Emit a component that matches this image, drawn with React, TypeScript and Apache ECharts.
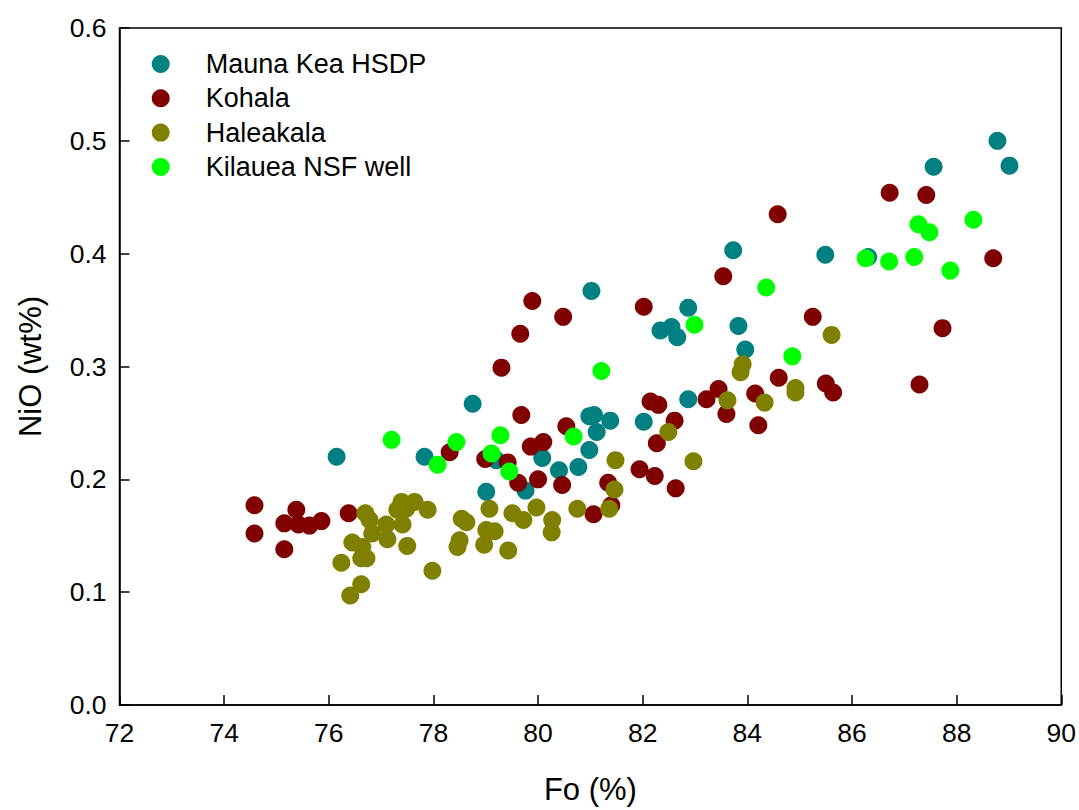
import React, { useEffect, useRef } from "react";
import * as echarts from "echarts";

const seriesNames = ["Mauna Kea HSDP", "Kohala", "Haleakala", "Kilauea NSF well"];
const seriesColors = ["#008080", "#800000", "#808000", "#00ff00"];

const maunaKea: [number, number][] = [
  [76.15, 0.22], [77.83, 0.22], [78.75, 0.267], [79.01, 0.189], [79.2, 0.217],
  [79.76, 0.19], [80.08, 0.219], [80.4, 0.208], [80.77, 0.211], [80.98, 0.226],
  [80.98, 0.256], [81.07, 0.257], [81.12, 0.242], [81.38, 0.252], [81.02, 0.367],
  [82.02, 0.251], [82.34, 0.332], [82.55, 0.335], [82.66, 0.326], [82.87, 0.352],
  [82.87, 0.271], [83.73, 0.403], [83.83, 0.336], [83.96, 0.315], [85.49, 0.399],
  [86.31, 0.397], [87.56, 0.477], [88.78, 0.5], [89.01, 0.478],
];

const kohala: [number, number][] = [
  [74.58, 0.177], [74.58, 0.152], [75.15, 0.161], [75.15, 0.138], [75.38, 0.173],
  [75.42, 0.16], [75.63, 0.159], [75.86, 0.163], [76.38, 0.17], [78.31, 0.224],
  [78.99, 0.218], [79.3, 0.299], [79.42, 0.215], [79.62, 0.197], [79.66, 0.329],
  [79.68, 0.257], [79.86, 0.229], [79.89, 0.358], [80.0, 0.2], [80.1, 0.233],
  [80.46, 0.195], [80.48, 0.344], [80.54, 0.247], [81.06, 0.169], [81.34, 0.197],
  [81.4, 0.177], [81.94, 0.209], [82.02, 0.353], [82.15, 0.269], [82.23, 0.203],
  [82.27, 0.232], [82.3, 0.266], [82.61, 0.252], [82.63, 0.192], [83.22, 0.271],
  [83.45, 0.28], [83.54, 0.38], [83.6, 0.258], [84.15, 0.276], [84.21, 0.248],
  [84.58, 0.435], [84.6, 0.29], [85.25, 0.344], [85.5, 0.285], [85.64, 0.277],
  [86.72, 0.454], [87.29, 0.284], [87.42, 0.452], [87.73, 0.334], [88.7, 0.396],
];

const haleakala: [number, number][] = [
  [76.7, 0.17], [76.78, 0.164], [76.83, 0.152], [76.64, 0.14], [76.45, 0.144],
  [76.24, 0.126], [76.62, 0.13], [76.72, 0.13], [76.62, 0.107], [76.41, 0.097],
  [77.1, 0.16], [77.12, 0.147], [77.39, 0.18], [77.48, 0.174], [77.64, 0.18],
  [77.31, 0.173], [77.41, 0.16], [77.89, 0.173], [77.5, 0.141], [77.98, 0.119],
  [78.54, 0.165], [78.63, 0.162], [78.5, 0.146], [78.46, 0.14], [79.07, 0.174],
  [79.01, 0.155], [79.17, 0.154], [78.97, 0.142], [79.43, 0.137], [79.51, 0.17],
  [79.72, 0.164], [79.97, 0.175], [80.27, 0.164], [80.26, 0.153], [80.75, 0.174],
  [81.36, 0.174], [81.46, 0.191], [81.48, 0.217], [82.49, 0.242], [82.97, 0.216],
  [83.62, 0.27], [83.91, 0.302], [83.87, 0.295], [84.33, 0.268], [84.92, 0.281],
  [84.92, 0.277], [85.61, 0.328],
];

const kilauea: [number, number][] = [
  [77.2, 0.235], [78.08, 0.213], [78.44, 0.233], [79.11, 0.223], [79.28, 0.239],
  [79.45, 0.207], [80.68, 0.238], [81.21, 0.296], [82.99, 0.337], [84.36, 0.37],
  [84.86, 0.309], [86.26, 0.396], [86.71, 0.393], [87.19, 0.397], [87.27, 0.426],
  [87.48, 0.419], [87.88, 0.385], [88.32, 0.43],
];

const allData = [maunaKea, kohala, haleakala, kilauea];

const FONT = "'Liberation Sans', Arial, sans-serif";

export default function App() {
  const ref = useRef<HTMLDivElement>(null);
  useEffect(() => {
    if (!ref.current) return;
    const chart = echarts.init(ref.current, null, { renderer: "svg" });
    chart.setOption({
      animation: false,
      backgroundColor: "#ffffff",
      textStyle: { fontFamily: FONT },
      grid: {
        left: 119.5,
        right: 16.5,
        top: 28,
        bottom: 102,
        show: true,
        borderColor: "#000",
        borderWidth: 1.5,
        backgroundColor: "transparent",
      },
      legend: {
        orient: "vertical",
        left: 151.7,
        top: 50.5,
        padding: 0,
        itemGap: 7.3,
        itemWidth: 18,
        itemHeight: 18,
        icon: "circle",
        data: seriesNames,
        textStyle: {
          fontFamily: FONT,
          fontSize: 27,
          lineHeight: 27,
          color: "#000",
          padding: [0, 0, 0, 31],
        },
      },
      xAxis: {
        type: "value",
        min: 72,
        max: 90,
        interval: 2,
        name: "Fo (%)",
        nameLocation: "middle",
        nameGap: 69,
        nameTextStyle: { fontFamily: FONT, fontSize: 31, color: "#000" },
        axisLine: { show: true, lineStyle: { color: "#000", width: 1.5 } },
        axisTick: { show: true, inside: true, length: 10, lineStyle: { color: "#000", width: 1.5 } },
        axisLabel: { fontFamily: FONT, fontSize: 26.5, color: "#000", margin: 14 },
        splitLine: { show: false },
      },
      yAxis: {
        type: "value",
        min: 0,
        max: 0.6,
        interval: 0.1,
        name: "NiO (wt%)",
        nameLocation: "middle",
        nameRotate: 90,
        nameGap: 74,
        nameTextStyle: { fontFamily: FONT, fontSize: 31, color: "#000" },
        axisLine: { show: true, lineStyle: { color: "#000", width: 1.5 } },
        axisTick: { show: true, inside: true, length: 10, lineStyle: { color: "#000", width: 1.5 } },
        axisLabel: {
          fontFamily: FONT,
          fontSize: 26.5,
          color: "#000",
          margin: 13,
          formatter: (v: number) => v.toFixed(1),
        },
        splitLine: { show: false },
      },
      series: seriesNames.map((name, i) => ({
        name,
        type: "scatter",
        symbol: "circle",
        symbolSize: 18,
        data: allData[i],
        itemStyle: { color: seriesColors[i], opacity: 1 },
        emphasis: { disabled: true },
      })),
    });
    return () => chart.dispose();
  }, []);
  return (
    <div
      ref={ref}
      style={{ position: "fixed", left: 0, top: 0, width: 1079, height: 810 }}
    />
  );
}
